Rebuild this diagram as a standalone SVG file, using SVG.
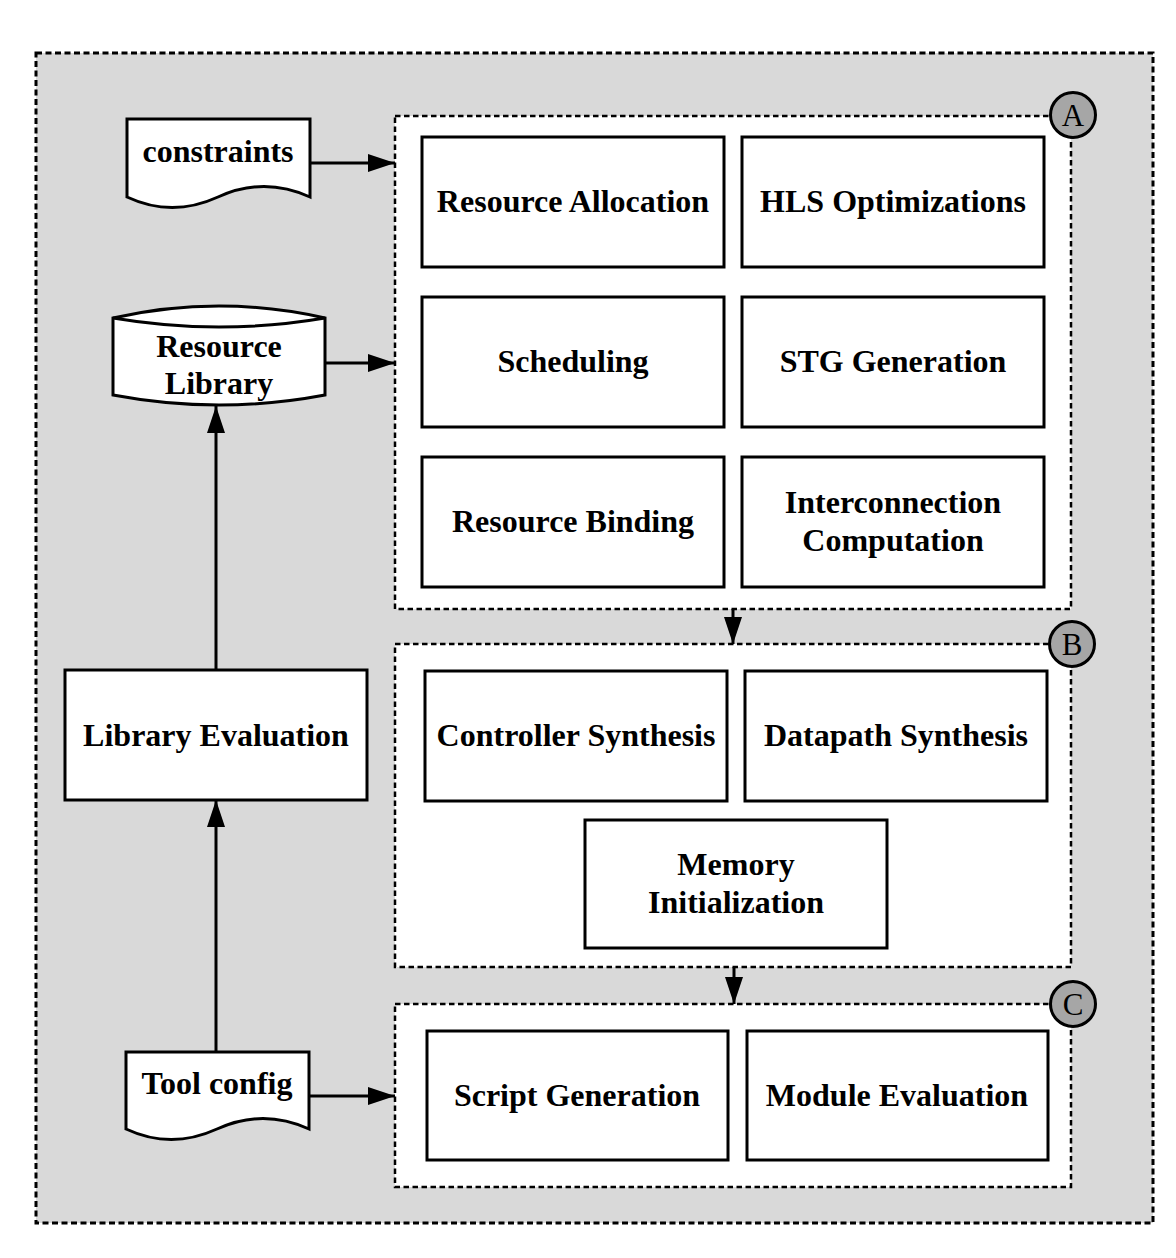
<svg xmlns="http://www.w3.org/2000/svg" width="1176" height="1258" viewBox="0 0 1176 1258">
<defs>
<style>
.box{fill:#ffffff;stroke:#000000;stroke-width:3}
.group{fill:#ffffff;stroke:#000000;stroke-width:2.5;stroke-dasharray:5.5 3.5}
.outer{fill:#d9d9d9;stroke:#000000;stroke-width:3;stroke-dasharray:6 3.5}
.lbl{font-family:"Liberation Serif","Times New Roman",serif;font-weight:bold;font-size:32px;fill:#000000;text-anchor:middle}
.badge{fill:#a6a6a6;stroke:#000000;stroke-width:3}
.badgeText{font-family:"Liberation Serif","Times New Roman",serif;font-size:31px;fill:#000000;text-anchor:middle}
.edge{fill:none;stroke:#000000;stroke-width:3}
</style>
<marker id="arrow" viewBox="0 0 27 18" refX="27" refY="9" markerWidth="27" markerHeight="18" markerUnits="userSpaceOnUse" orient="auto">
<path d="M0,0 L27,9 L0,18 Z" fill="#000000"/>
</marker>
</defs>

<g id="background">
<rect class="outer" x="36" y="53" width="1117" height="1170"/>
</g>

<g id="groupA">
<rect class="group" x="395" y="116" width="676" height="493"/>
<circle class="badge" cx="1073" cy="115" r="22.5"/>
<text class="badgeText" x="1073" y="126">A</text>
</g>
<g id="groupB">
<rect class="group" x="395" y="644" width="676" height="323"/>
<circle class="badge" cx="1072" cy="644" r="22.5"/>
<text class="badgeText" x="1072" y="655">B</text>
</g>
<g id="groupC">
<rect class="group" x="395" y="1004" width="676" height="183"/>
<circle class="badge" cx="1073" cy="1004" r="22.5"/>
<text class="badgeText" x="1073" y="1015">C</text>
</g>

<g id="resourceAllocation">
<rect class="box" x="422" y="137" width="302" height="130"/>
<text class="lbl" x="573" y="212">Resource Allocation</text>
</g>
<g id="hlsOptimizations">
<rect class="box" x="742" y="137" width="302" height="130"/>
<text class="lbl" x="893" y="212">HLS Optimizations</text>
</g>
<g id="scheduling">
<rect class="box" x="422" y="297" width="302" height="130"/>
<text class="lbl" x="573" y="372">Scheduling</text>
</g>
<g id="stgGeneration">
<rect class="box" x="742" y="297" width="302" height="130"/>
<text class="lbl" x="893" y="372">STG Generation</text>
</g>
<g id="resourceBinding">
<rect class="box" x="422" y="457" width="302" height="130"/>
<text class="lbl" x="573" y="532">Resource Binding</text>
</g>
<g id="interconnectionComputation">
<rect class="box" x="742" y="457" width="302" height="130"/>
<text class="lbl" x="893" y="513">Interconnection</text>
<text class="lbl" x="893" y="551">Computation</text>
</g>

<g id="controllerSynthesis">
<rect class="box" x="425" y="671" width="302" height="130"/>
<text class="lbl" x="576" y="746">Controller Synthesis</text>
</g>
<g id="datapathSynthesis">
<rect class="box" x="745" y="671" width="302" height="130"/>
<text class="lbl" x="896" y="746">Datapath Synthesis</text>
</g>
<g id="memoryInitialization">
<rect class="box" x="585" y="820" width="302" height="128"/>
<text class="lbl" x="736" y="875">Memory</text>
<text class="lbl" x="736" y="913">Initialization</text>
</g>

<g id="scriptGeneration">
<rect class="box" x="427" y="1031" width="301" height="129"/>
<text class="lbl" x="577" y="1106">Script Generation</text>
</g>
<g id="moduleEvaluation">
<rect class="box" x="747" y="1031" width="301" height="129"/>
<text class="lbl" x="897" y="1106">Module Evaluation</text>
</g>

<g id="libraryEvaluation">
<rect class="box" x="65" y="670" width="302" height="130"/>
<text class="lbl" x="216" y="746">Library Evaluation</text>
</g>

<g id="constraints">
<path class="box" d="M127,119 H310 V197 Q264,176 218,197 Q172,218 127,197 Z"/>
<text class="lbl" x="218" y="162">constraints</text>
</g>

<g id="toolConfig">
<path class="box" d="M126,1052 H309 V1129 Q263,1108 217,1129 Q171,1150 126,1129 Z"/>
<text class="lbl" x="217" y="1094">Tool config</text>
</g>

<g id="resourceLibrary">
<path class="box" d="M113,318 Q219,294 325,318 V395 Q219,415 113,395 Z"/>
<path class="edge" d="M113,318 Q219,336 325,318"/>
<text class="lbl" x="219" y="357">Resource</text>
<text class="lbl" x="219" y="394">Library</text>
</g>

<g id="connectors">
<line class="edge" x1="310" y1="163" x2="395" y2="163" marker-end="url(#arrow)"/>
<line class="edge" x1="325" y1="363" x2="395" y2="363" marker-end="url(#arrow)"/>
<line class="edge" x1="309" y1="1096" x2="395" y2="1096" marker-end="url(#arrow)"/>
<line class="edge" x1="216" y1="670" x2="216" y2="406" marker-end="url(#arrow)"/>
<line class="edge" x1="216" y1="1052" x2="216" y2="800" marker-end="url(#arrow)"/>
<line class="edge" x1="733" y1="609" x2="733" y2="644" marker-end="url(#arrow)"/>
<line class="edge" x1="734" y1="967" x2="734" y2="1004" marker-end="url(#arrow)"/>
</g>
</svg>
